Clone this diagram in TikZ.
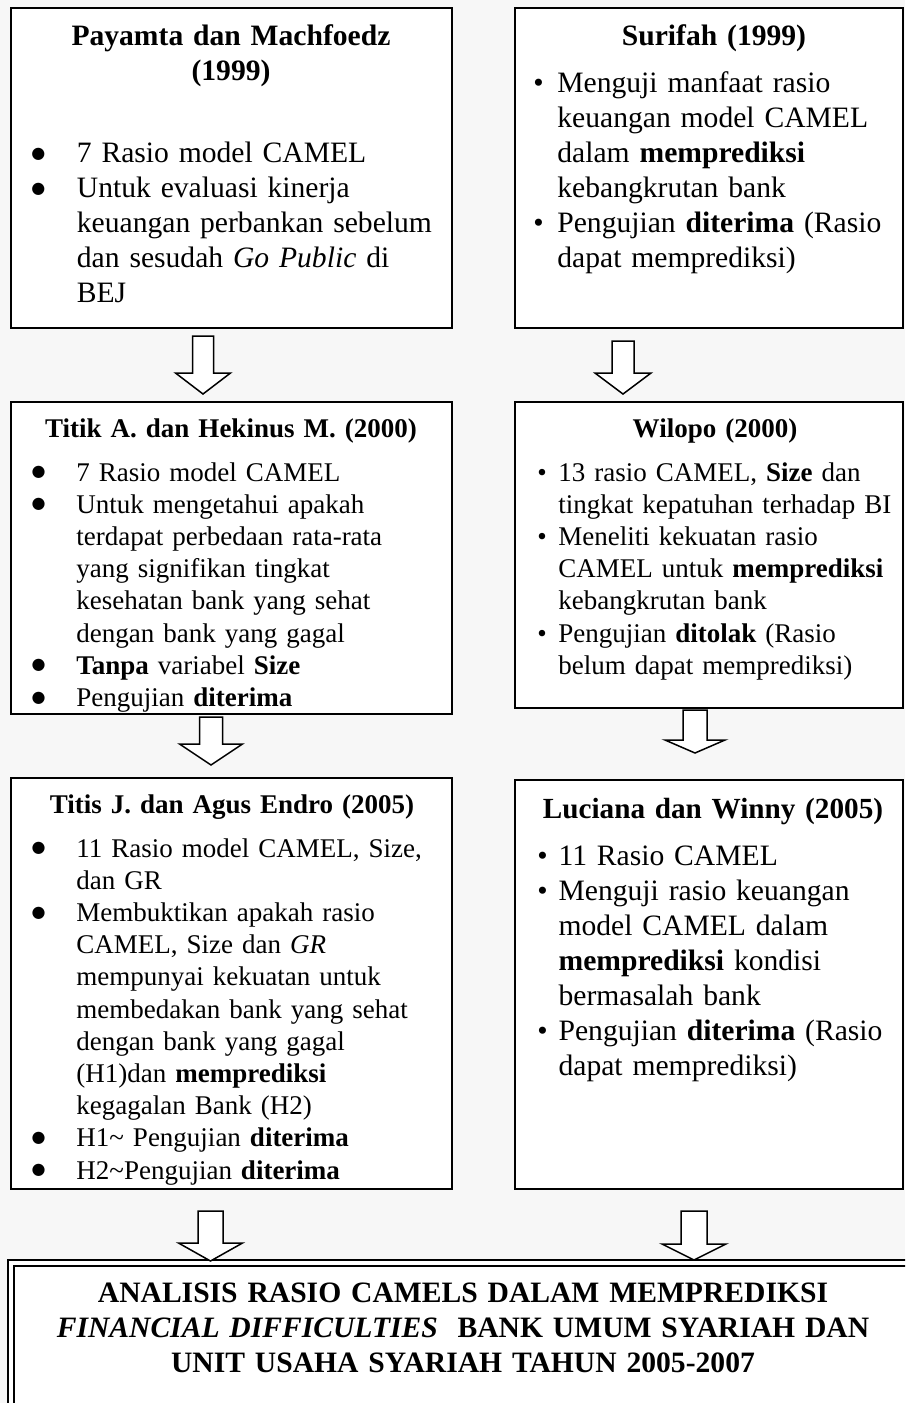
\documentclass[tikz,border=0pt]{standalone}
\usepackage{fontspec}
\setmainfont{Liberation Serif}
\newfontfamily\dotfont{DejaVu Sans}
\usetikzlibrary{calc,fit}

\newlength{\bulletsep}
\newcommand{\bulletmark}{\textbullet}
\newcommand{\bpoint}[1]{\par\noindent\hangindent=\bulletsep\hangafter=1
  \makebox[\bulletsep][l]{\bulletmark}\strut#1}
\newcommand{\hollowarrow}[5]{%
  \draw[arrowline] ($(#1)+(-#3,0)$) -- ($(#1)+(#3,0)$) -- ($(#2)+(#3,-#5)$)
    -- ($(#2)+(#4,-#5)$) -- (#2) -- ($(#2)+(-#4,-#5)$) -- ($(#2)+(-#3,-#5)$) -- cycle;}

\begin{document}
\begin{tikzpicture}[x=0.5pt,y=-0.5pt,
  box/.style={draw,line width=1pt,fill=white,inner sep=0pt},
  arrowline/.style={draw,fill=white,line width=0.75pt,line join=miter},
  bigtext/.style={font=\fontsize{14.8pt}{17.5pt}\selectfont},
  smalltext/.style={font=\fontsize{13.5pt}{16.1pt}\selectfont},
  head/.style={anchor=north,inner sep=0pt,text width=210pt,align=center,
    execute at begin node=\bfseries},
  body/.style={anchor=north west,inner sep=0pt,text width=215pt,align=left,
    execute at begin node={\setlength{\bulletsep}{#1}}},
  bigdot/.style={execute at begin node={\renewcommand{\bulletmark}{\raisebox{2.2pt}{\dotfont\fontsize{8pt}{8pt}\selectfont ●}}}}]
\useasboundingbox (0,0) rectangle (905,1403);
\clip (0,0) rectangle (905,1403);
\fill[black!3] (0,0) rectangle (905,1403);

\node[box,fit={(11,8) (452,328)}] (payamta) {};
\node[box,fit={(515,8) (903,328)}] (surifah) {};
\node[box,fit={(11,402) (452,714)}] (titik) {};
\node[box,fit={(515,402) (903,708)}] (wilopo) {};
\node[box,fit={(11,778) (452,1189)}] (titis) {};
\node[box,fit={(515,780) (903,1189)}] (luciana) {};
\node[box,line width=0.9pt,fit={(8,1260) (920,1440)}] (judulout) {};
\node[box,line width=0.9pt,fit={(14,1266) (914,1440)}] (judul) {};

\node[head,bigtext] (payamtahead) at (231,20.5) {\strut Payamta dan Machfoedz\\(1999)};
\node[body=22.75pt,bigtext,bigdot] (payamtatext) at (31,127.5) {%
  \bpoint{7 Rasio model CAMEL}
  \bpoint{Untuk evaluasi kinerja\newline keuangan perbankan sebelum\newline
    dan sesudah \textit{Go Public} di\newline BEJ}\par};

\node[head,bigtext] (surifahhead) at (714,20.5) {\strut Surifah (1999)};
\node[body=12pt,bigtext] (surifahtext) at (533,57.5) {%
  \bpoint{Menguji manfaat rasio\newline keuangan model CAMEL\newline
    dalam \textbf{memprediksi}\newline kebangkrutan bank}
  \bpoint{Pengujian \textbf{diterima} (Rasio\newline dapat memprediksi)}\par};

\node[head,smalltext] (titikhead) at (231,414.5) {\strut Titik A. dan Hekinus M. (2000)};
\node[body=22.4pt,smalltext,bigdot] (titiktext) at (31.2,448.5) {%
  \bpoint{7 Rasio model CAMEL}
  \bpoint{Untuk mengetahui apakah\newline terdapat perbedaan rata-rata\newline
    yang signifikan tingkat\newline kesehatan bank yang sehat\newline
    dengan bank yang gagal}
  \bpoint{\textbf{Tanpa} variabel \textbf{Size}}
  \bpoint{Pengujian \textbf{diterima}}\par};

\node[head,smalltext] (wilopohead) at (715,414.5) {\strut Wilopo (2000)};
\node[body=10.5pt,smalltext] (wilopotext) at (537,448.5) {%
  \bpoint{13 rasio CAMEL, \textbf{Size} dan\newline tingkat kepatuhan terhadap BI}
  \bpoint{Meneliti kekuatan rasio\newline CAMEL untuk \textbf{memprediksi}\newline
    kebangkrutan bank}
  \bpoint{Pengujian \textbf{ditolak} (Rasio\newline belum dapat memprediksi)}\par};

\node[head,smalltext] (titishead) at (232,790.5) {\strut Titis J. dan Agus Endro (2005)};
\node[body=22.4pt,smalltext,bigdot] (titistext) at (31.2,824.5) {%
  \bpoint{11 Rasio model CAMEL, Size,\newline dan GR}
  \bpoint{Membuktikan apakah rasio\newline CAMEL, Size dan \textit{GR}\newline
    mempunyai kekuatan untuk\newline membedakan bank yang sehat\newline
    dengan bank yang gagal\newline (H1)dan \textbf{memprediksi}\newline
    kegagalan Bank (H2)}
  \bpoint{H1\textasciitilde{} Pengujian \textbf{diterima}}
  \bpoint{H2\textasciitilde Pengujian \textbf{diterima}}\par};

\node[head,font=\fontsize{14.6pt}{17.5pt}\selectfont] (lucianahead) at (713,793.5) {\strut Luciana dan Winny (2005)};
\node[body=10.6pt,bigtext] (lucianatext) at (537,830.5) {%
  \bpoint{11 Rasio CAMEL}
  \bpoint{Menguji rasio keuangan\newline model CAMEL dalam\newline
    \textbf{memprediksi} kondisi\newline bermasalah bank}
  \bpoint{Pengujian \textbf{diterima} (Rasio\newline dapat memprediksi)}\par};

\node[head,bigtext,text width=420pt] (judultext) at (463,1277.5) {\strut
  ANALISIS RASIO CAMELS DALAM MEMPREDIKSI\\
  \textit{FINANCIAL DIFFICULTIES}\ \ BANK UMUM SYARIAH DAN\\
  UNIT USAHA SYARIAH TAHUN 2005-2007};

\coordinate (a1s) at (203,336);   \coordinate (a1t) at (203,394);
\coordinate (a2s) at (623,341);   \coordinate (a2t) at (623,394);
\coordinate (a3s) at (211,717);   \coordinate (a3t) at (211,765);
\coordinate (a4s) at (695,710);   \coordinate (a4t) at (695,753);
\coordinate (a5s) at (210.5,1211); \coordinate (a5t) at (210.5,1261);
\coordinate (a6s) at (694,1211);  \coordinate (a6t) at (694,1260);
\hollowarrow{a1s}{a1t}{10.5}{27.5}{21}
\hollowarrow{a2s}{a2t}{11}{28}{21}
\hollowarrow{a3s}{a3t}{11.5}{31.5}{21}
\hollowarrow{a4s}{a4t}{12}{30}{13}
\hollowarrow{a5s}{a5t}{12.5}{32}{18}
\hollowarrow{a6s}{a6t}{13}{32}{16}
\end{tikzpicture}
\end{document}
